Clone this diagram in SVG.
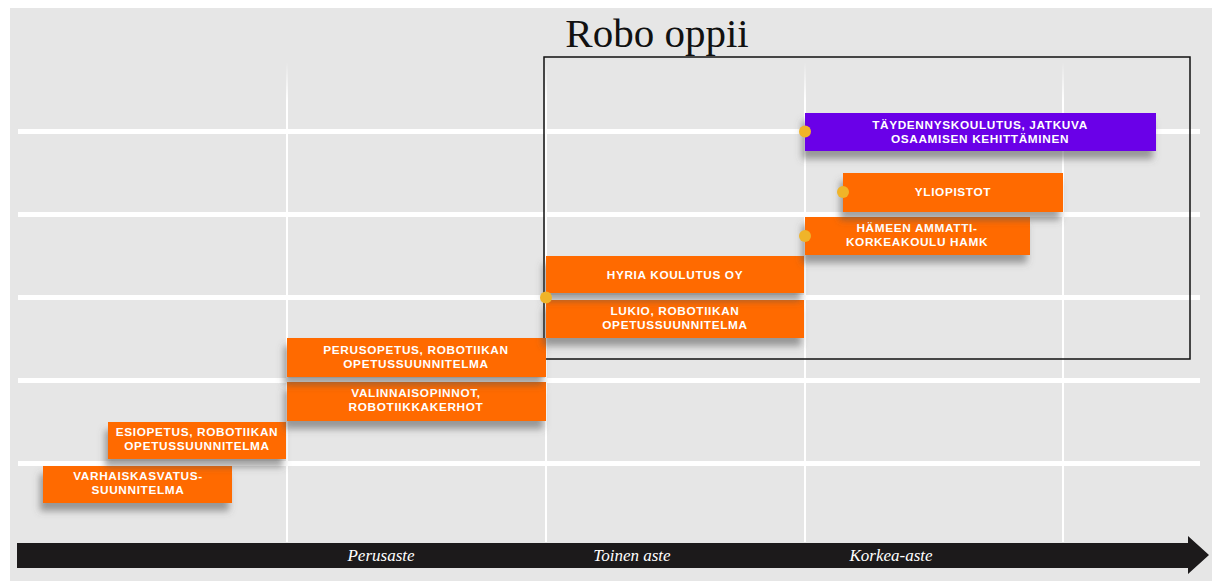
<svg xmlns="http://www.w3.org/2000/svg" width="1218" height="581" viewBox="0 0 1218 581">
<defs>
<filter id="sh" x="-10%" y="-30%" width="120%" height="180%">
<feDropShadow dx="-3" dy="8" stdDeviation="3.5" flood-color="#555" flood-opacity="0.55"/>
</filter>
<linearGradient id="vfade" x1="0" y1="0" x2="0" y2="1">
<stop offset="0" stop-color="#fff" stop-opacity="0"/>
<stop offset="0.08" stop-color="#fff" stop-opacity="1"/>
<stop offset="1" stop-color="#fff" stop-opacity="1"/>
</linearGradient>
<style>
.bg{fill:#e6e6e6}
.hl{stroke:#fff;stroke-width:5}
.vl{fill:url(#vfade)}
.or{fill:#ff6a00}
.pu{fill:#6a00e8}
.bt{fill:#fff;font-family:"Liberation Sans",Arial,sans-serif;font-weight:700;font-size:11.8px;letter-spacing:0.65px;text-anchor:middle}
.ax{fill:#fff;font-family:"Liberation Serif",serif;font-style:italic;font-size:17px;text-anchor:middle}
.dot{fill:#f0b429}
</style>
</defs>
<rect class="bg" x="10" y="8" width="1202" height="573"/>
<g id="grid">
<line class="hl" x1="18" y1="131.5" x2="1200" y2="131.5"/>
<line class="hl" x1="18" y1="214.5" x2="1200" y2="214.5"/>
<line class="hl" x1="18" y1="297.5" x2="1200" y2="297.5"/>
<line class="hl" x1="18" y1="380.5" x2="1200" y2="380.5"/>
<line class="hl" x1="18" y1="463.5" x2="1200" y2="463.5"/>
<rect class="vl" x="286" y="62" width="2" height="480"/>
<rect class="vl" x="545" y="62" width="2" height="480"/>
<rect class="vl" x="804" y="62" width="2" height="480"/>
<rect class="vl" x="1062" y="62" width="2" height="480"/>
</g>
<g id="title">
<text x="657" y="47" font-family="Liberation Serif,serif" font-size="41" fill="#111" text-anchor="middle">Robo oppii</text>
<rect x="544" y="57" width="646" height="302" fill="none" stroke="#111" stroke-width="1.5"/>
</g>
<g id="n-varhais">
<rect class="or" x="43" y="466" width="189" height="37" filter="url(#sh)"/>
<text class="bt" x="138" y="480">VARHAISKASVATUS-</text>
<text class="bt" x="138" y="494">SUUNNITELMA</text>
</g>
<g id="n-esiopetus">
<rect class="or" x="108" y="422" width="178" height="37" filter="url(#sh)"/>
<text class="bt" x="197" y="436">ESIOPETUS, ROBOTIIKAN</text>
<text class="bt" x="197" y="450">OPETUSSUUNNITELMA</text>
</g>
<g id="n-valinnais">
<rect class="or" x="287" y="382" width="259" height="39" filter="url(#sh)"/>
<text class="bt" x="416" y="397">VALINNAISOPINNOT,</text>
<text class="bt" x="416" y="411">ROBOTIIKKAKERHOT</text>
</g>
<g id="n-perusopetus">
<rect class="or" x="287" y="338" width="259" height="39" filter="url(#sh)"/>
<text class="bt" x="416" y="354">PERUSOPETUS, ROBOTIIKAN</text>
<text class="bt" x="416" y="368">OPETUSSUUNNITELMA</text>
</g>
<g id="n-lukio">
<rect class="or" x="546" y="300" width="258" height="38" filter="url(#sh)"/>
<text class="bt" x="675" y="315">LUKIO, ROBOTIIKAN</text>
<text class="bt" x="675" y="329">OPETUSSUUNNITELMA</text>
</g>
<g id="n-hyria">
<rect class="or" x="546" y="256" width="258" height="37" filter="url(#sh)"/>
<text class="bt" x="675" y="279">HYRIA KOULUTUS OY</text>
</g>
<g id="n-hamk">
<rect class="or" x="805" y="217" width="225" height="38" filter="url(#sh)"/>
<text class="bt" x="917" y="232">HÄMEEN AMMATTI-</text>
<text class="bt" x="917" y="246">KORKEAKOULU HAMK</text>
</g>
<g id="n-yliopistot">
<rect class="or" x="843" y="173" width="220" height="39" filter="url(#sh)"/>
<text class="bt" x="953" y="196">YLIOPISTOT</text>
</g>
<g id="n-taydennys">
<rect class="pu" x="805" y="113" width="351" height="38" filter="url(#sh)"/>
<text class="bt" x="980" y="129">TÄYDENNYSKOULUTUS, JATKUVA</text>
<text class="bt" x="980" y="143">OSAAMISEN KEHITTÄMINEN</text>
</g>
<g id="dots">
<circle class="dot" cx="805" cy="131.5" r="6"/>
<circle class="dot" cx="843" cy="192" r="6"/>
<circle class="dot" cx="805" cy="236" r="6"/>
<circle class="dot" cx="546" cy="297.5" r="6"/>
</g>
<g id="axis">
<path d="M17 543 H1188 V536 L1209 555 L1188 574 V568 H17 Z" fill="#1c1a1b"/>
<text class="ax" x="381" y="561">Perusaste</text>
<text class="ax" x="632" y="561">Toinen aste</text>
<text class="ax" x="891" y="561">Korkea-aste</text>
</g>
</svg>
